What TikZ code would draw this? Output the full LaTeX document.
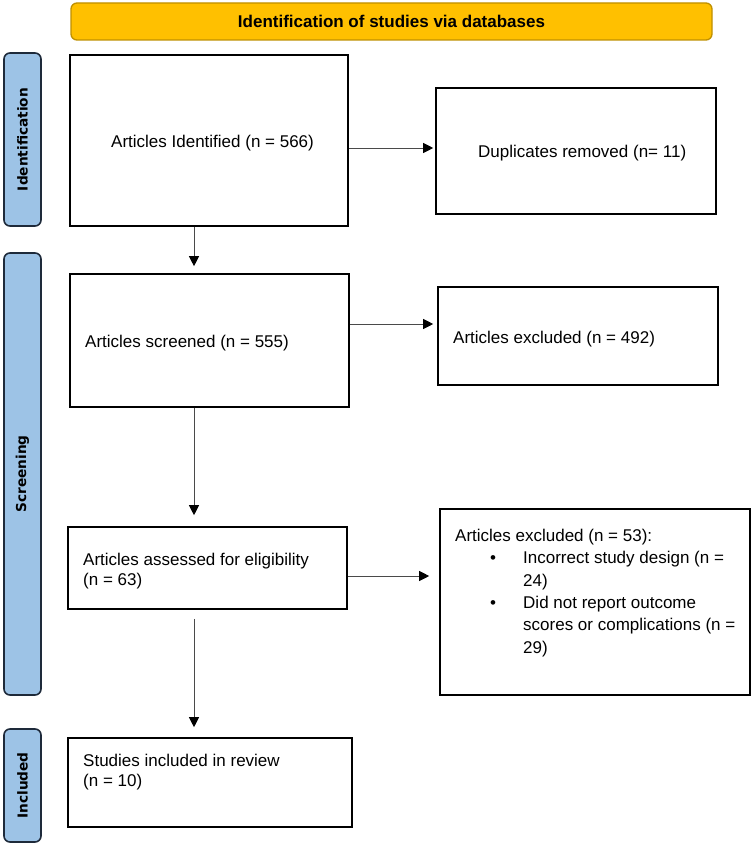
\documentclass[tikz,border=0pt]{standalone}
\usepackage{fontspec}
\setmainfont{Liberation Sans}
\newfontfamily\sidefont{DejaVu Sans}
\usetikzlibrary{arrows.meta}
\definecolor{hdrfill}{HTML}{FFC000}
\definecolor{hdrdraw}{HTML}{BF9000}
\definecolor{sidefill}{HTML}{9DC3E6}
\definecolor{sidedraw}{HTML}{1E2A3A}
\definecolor{arrgray}{HTML}{4A4A4A}
\tikzset{
  box/.style={draw=black, line width=1.6pt, fill=white, inner sep=0pt},
  hdr/.style={draw=hdrdraw, line width=1.3pt, fill=hdrfill, rounded corners=6pt, inner sep=0pt,
    font={\fontsize{17}{20}\selectfont\bfseries}},
  side/.style={draw=sidedraw, line width=1.6pt, fill=sidefill, rounded corners=6pt, inner sep=0pt},
  sidetxt/.style={rotate=90, inner sep=0pt, font={\sidefont\fontsize{13.7}{16}\selectfont\bfseries}},
  txt/.style={inner sep=0pt, align=left, anchor=base west, font={\fontsize{17}{20}\selectfont}},
  arr/.style={draw=arrgray, line width=0.9pt, -{Triangle[length=10pt,width=10pt,fill=black,color=black]}},
}
\begin{document}
\begin{tikzpicture}[x=1pt,y=-1pt]
\useasboundingbox (0,0) rectangle (751,845);
% header
\node[hdr, minimum width=641pt, minimum height=37pt] (hdr) at (391.5,21.5) {Identification of studies via databases};
% side labels
\node[side, minimum width=37pt, minimum height=173pt] (s1) at (22.5,139.5) {};
\node[sidetxt] (s1t) at (s1.center) {Identification};
\node[side, minimum width=37pt, minimum height=442pt] (s2) at (22.5,474) {};
\node[sidetxt] (s2t) at (s2.center) {Screening};
\node[side, minimum width=37pt, minimum height=113pt] (s3) at (22.5,785.5) {};
\node[sidetxt] (s3t) at (s3.center) {Included};
% boxes
\node[box, minimum width=278pt, minimum height=171pt] (b1) at (209,140.5) {};
\node[txt] (b1t) at (111,148) {Articles Identified (n = 566)};
\node[box, minimum width=280pt, minimum height=126pt] (dup) at (576,151) {};
\node[txt] (dupt) at (478,158) {Duplicates removed (n= 11)};
\node[box, minimum width=279pt, minimum height=133pt] (b2) at (209.5,340.5) {};
\node[txt] (b2t) at (85,347) {Articles screened (n = 555)};
\node[box, minimum width=280pt, minimum height=98pt] (ex1) at (578,336) {};
\node[txt] (ex1t) at (453,343) {Articles excluded (n = 492)};
\node[box, minimum width=279pt, minimum height=82pt] (b3) at (207.5,568) {};
\node[txt] (b3t) at (83,585) {Articles assessed for eligibility\\(n = 63)};
\node[box, minimum width=310pt, minimum height=186pt] (ex2) at (595,602) {};
\node[txt, font={\fontsize{17}{22.3}\selectfont}] (ex2t) at (455,653) {Articles excluded (n = 53):\\
\makebox[68pt][l]{\hspace{35pt}\textbullet}Incorrect study design (n =\\
\hspace*{68pt}24)\\
\makebox[68pt][l]{\hspace{35pt}\textbullet}Did not report outcome\\
\hspace*{68pt}scores or complications (n =\\
\hspace*{68pt}29)};
\node[box, minimum width=284pt, minimum height=89pt] (b4) at (210,782.5) {};
\node[txt] (b4t) at (83,786) {Studies included in review\\(n = 10)};
% connectors
\coordinate (vx) at (194,0);
\draw[arr, shorten >=7pt] (vx |- b1.south) -- (vx |- b2.north);
\draw[arr, shorten >=11pt] (vx |- b2.south) -- (vx |- b3.north);
\draw[arr, shorten <=9pt, shorten >=10pt] (vx |- b3.south) -- (vx |- b4.north);
\draw[arr, shorten >=2pt] ([yshift=-7.5pt]b1.east) -- ([yshift=-7.5pt]b1.east -| dup.west);
\draw[arr, shorten >=4pt] ([yshift=16.5pt]b2.east) -- ([yshift=16.5pt]b2.east -| ex1.west);
\draw[arr, shorten >=10pt] ([yshift=-8pt]b3.east) -- ([yshift=-8pt]b3.east -| ex2.west);
\end{tikzpicture}
\end{document}
